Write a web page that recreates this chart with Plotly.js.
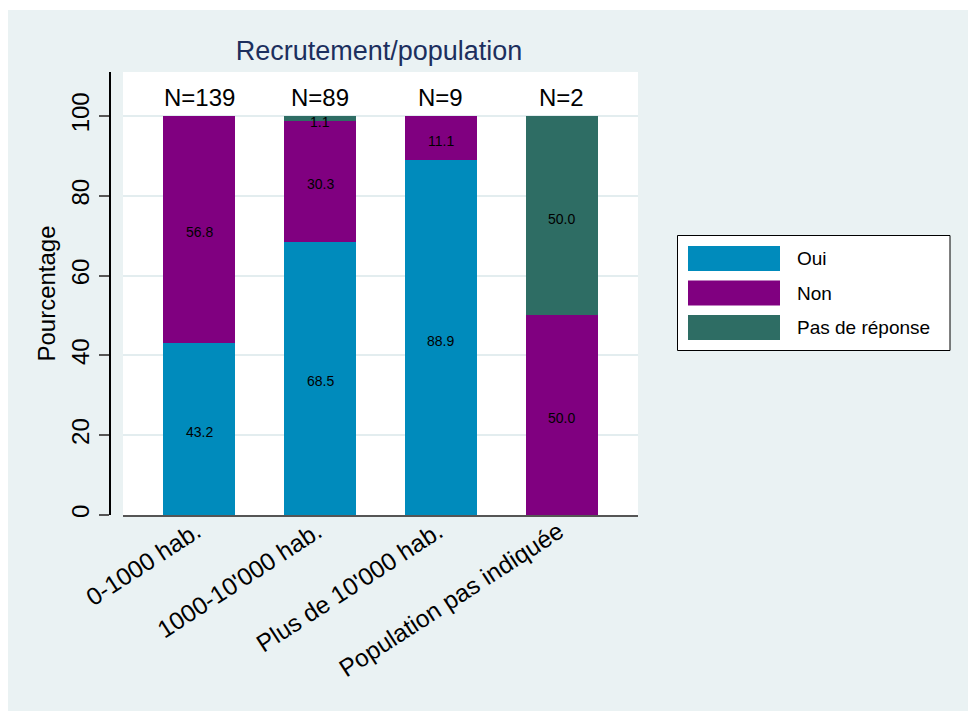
<!DOCTYPE html>
<html>
<head>
<meta charset="utf-8">
<script src="https://cdn.plot.ly/plotly-3.0.1.min.js"></script>
<style>
  html, body { margin: 0; padding: 0; background: #ffffff; width: 968px; height: 711px; overflow: hidden; }
  #chart { position: absolute; left: 8px; top: 10px; width: 960px; height: 701px; }
</style>
</head>
<body>
<div id="chart"></div>
<script>
// ---- data ----
var categories = ['0-1000 hab.', "1000-10'000 hab.", "Plus de 10'000 hab.", 'Population pas indiquée'];
var oui = [43.2, 68.5, 88.9, 0];
var non = [56.8, 30.3, 11.1, 50.0];
var pasDeReponse = [0, 1.1, 0, 50.0];
var nTotal = [139, 89, 9, 2];
var seriesNames = ['Oui', 'Non', 'Pas de réponse'];
var yTicks = [0, 20, 40, 60, 80, 100];

// ---- style ----
var colors = ['#008bbc', '#800080', '#2e6d64'];
var FONT = 'Liberation Sans, Arial, Helvetica, sans-serif';
var series = [oui, non, pasDeReponse];

var traces = [];
series.forEach(function (vals, i) {
  traces.push({
    type: 'bar', x: categories, y: vals, name: seriesNames[i],
    width: 0.6, marker: { color: colors[i], line: { width: 0 } },
    showlegend: false, hoverinfo: 'skip'
  });
});

var annotations = [];
// value labels at segment midpoints
categories.forEach(function (c, j) {
  var base = 0;
  series.forEach(function (vals) {
    var v = vals[j];
    if (v > 0) {
      annotations.push({ x: c, y: base + v / 2, xref: 'x', yref: 'y', text: v.toFixed(1), showarrow: false,
        xanchor: 'center', yanchor: 'middle', yshift: -3, font: { family: FONT, size: 14, color: '#000000' } });
    }
    base += v;
  });
});

// N labels
categories.forEach(function (c, j) {
  annotations.push({ x: c, y: 104.6, xref: 'x', yref: 'y', text: 'N=' + nTotal[j], showarrow: false,
           font: { family: FONT, size: 24, color: '#000000' }, xanchor: 'center', yanchor: 'middle' });
});

// manual legend (pixel helpers relative to plot area)
function px(x) { return (x - 109) / 529; }
function py(y) { return (515 - y) / 443; }
var shapes = [];
shapes.push({ type: 'rect', xref: 'paper', yref: 'paper', x0: px(677.5), x1: px(950), y0: py(350.5), y1: py(235.5),
              line: { color: '#000000', width: 1 }, fillcolor: '#ffffff', layer: 'above' });
seriesNames.forEach(function (n, i) {
  var cy = 258.5 + i * 34.5;
  shapes.push({ type: 'rect', xref: 'paper', yref: 'paper', x0: px(688), x1: px(780), y0: py(cy + 12.5), y1: py(cy - 12.5),
                line: { width: 0 }, fillcolor: colors[i], layer: 'above' });
  annotations.push({ xref: 'paper', yref: 'paper', x: px(795), y: py(cy), text: n, showarrow: false,
                     xanchor: 'left', yanchor: 'middle', font: { family: FONT, size: 19, color: '#000000' } });
});

var layout = {
  width: 960, height: 701,
  margin: { l: 101, r: 330, t: 62, b: 196, pad: 0 },
  paper_bgcolor: '#eaf2f3', plot_bgcolor: '#ffffff',
  barmode: 'stack',
  showlegend: false,
  font: { family: FONT, color: '#000000' },
  title: { text: 'Recrutement/population', font: { family: FONT, size: 27, color: '#1c2f5e' },
           xref: 'container', yref: 'container', x: 0.3865, y: 0.9415, xanchor: 'center', yanchor: 'middle' },
  xaxis: {
    domain: [14 / 529, 1], range: [-0.63, 3.63], type: 'category',
    showline: true, linecolor: '#555555', linewidth: 2, ticks: '', showgrid: false, zeroline: false,
    tickangle: -33, tickfont: { family: FONT, size: 24.5, color: '#000000' }, automargin: false,
    ticklabelstandoff: -9, ticklabelshift: -3
  },
  yaxis: {
    anchor: 'free', position: 0, range: [0, 111], tickvals: yTicks, ticktext: yTicks.map(String),
    showline: true, linecolor: '#000000', linewidth: 1.5, ticks: 'outside', ticklen: 10, tickwidth: 2, tickcolor: '#555555',
    showgrid: true, gridcolor: '#e3edef', gridwidth: 2, zeroline: false,
    tickangle: -90, tickfont: { family: FONT, size: 24, color: '#000000' },
    title: { text: 'Pourcentage', font: { family: FONT, size: 24, color: '#000000' }, standoff: 3 }, automargin: false
  },
  shapes: shapes,
  annotations: annotations
};

Plotly.newPlot('chart', traces, layout, { staticPlot: true, displayModeBar: false });
</script>
</body>
</html>
